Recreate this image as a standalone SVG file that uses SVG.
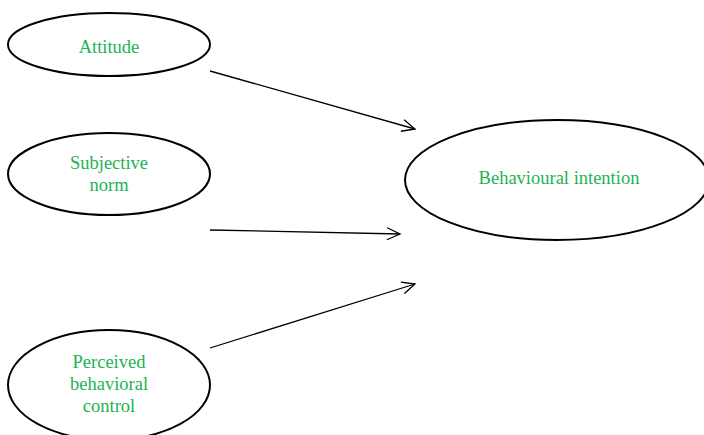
<svg xmlns="http://www.w3.org/2000/svg" width="704" height="435" viewBox="0 0 704 435">
<style>
.n{fill:#fff;stroke:#000;stroke-width:2}
.t{font-family:"Liberation Serif","Times New Roman",serif;font-size:18.5px;fill:#1db352;text-anchor:middle}
.c{stroke:#000;stroke-width:1.3;fill:none;marker-end:url(#a)}
</style>
<defs>
<marker id="a" markerUnits="userSpaceOnUse" markerWidth="16" markerHeight="14" refX="14" refY="7" orient="auto">
<path d="M1,1 L14,7 L1,13" fill="none" stroke="#000" stroke-width="1.3"/>
</marker>
</defs>
<rect width="704" height="435" fill="#fff"/>
<g id="attitude"><ellipse class="n" cx="109" cy="44.5" rx="101" ry="31.5"/><text class="t" x="109" y="53">Attitude</text></g>
<g id="subjective-norm"><ellipse class="n" cx="109" cy="174" rx="101" ry="41"/><text class="t" x="109" y="169">Subjective</text><text class="t" x="109" y="191">norm</text></g>
<g id="perceived-behavioral-control"><ellipse class="n" cx="109" cy="385" rx="101" ry="55"/><text class="t" x="109" y="368">Perceived</text><text class="t" x="109" y="390">behavioral</text><text class="t" x="109" y="412">control</text></g>
<g id="behavioural-intention"><ellipse class="n" cx="557" cy="180" rx="152" ry="60"/><text class="t" x="559" y="184">Behavioural intention</text></g>
<g id="connectors">
<line class="c" x1="210" y1="71" x2="415" y2="129"/>
<line class="c" x1="210" y1="230" x2="400" y2="234"/>
<line class="c" x1="210" y1="348" x2="415" y2="284"/>
</g>
</svg>
